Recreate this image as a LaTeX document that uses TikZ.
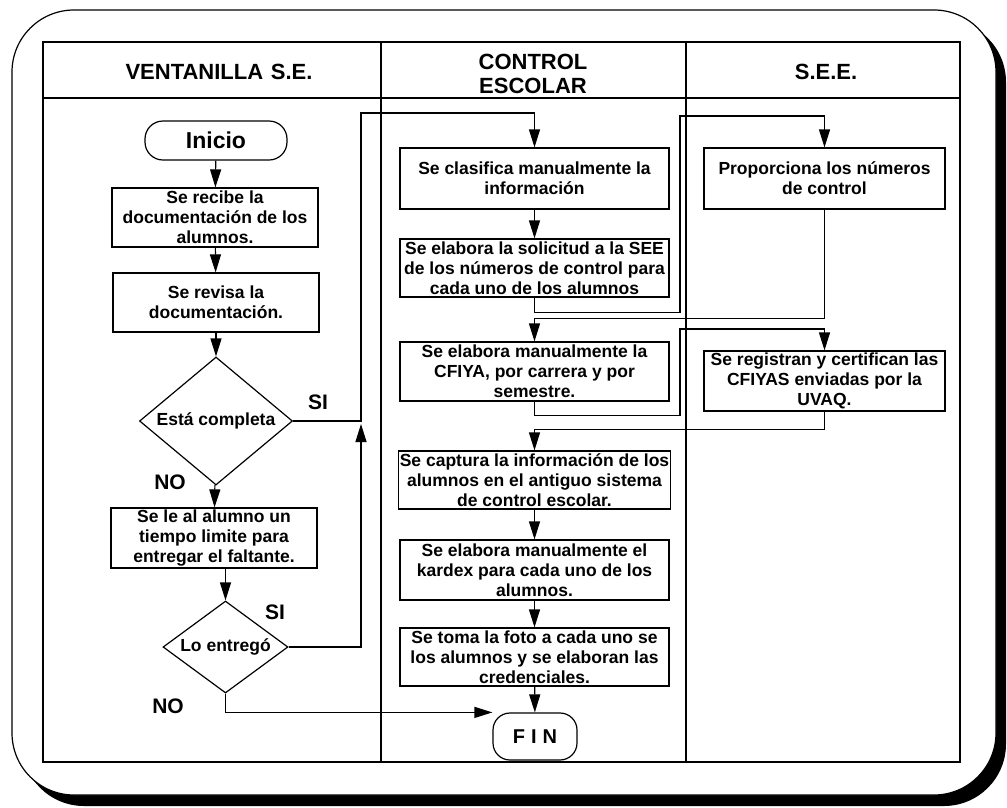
\documentclass[tikz,border=0pt]{standalone}
\usepackage{fontspec}
\setmainfont{Liberation Sans}
\usetikzlibrary{arrows.meta,shapes.geometric}
\begin{document}
\begin{tikzpicture}[x=1pt,y=-1pt,
  line width=1.2pt,
  >={Triangle[length=18pt,width=11pt]},
  box/.style={draw, rectangle, align=center, inner sep=1pt, font=\bfseries\fontsize{17.5}{20}\selectfont},
  lbox/.style={box, minimum width=206, minimum height=59},
  mbox/.style={box, minimum width=269, minimum height=59},
  rbox/.style={box, minimum width=241, minimum height=60},
  term/.style={draw, rectangle, align=center, inner sep=1pt, font=\bfseries\fontsize{23}{26}\selectfont},
  dec/.style={draw, diamond, inner sep=0pt, font=\bfseries\fontsize{17.5}{20}\selectfont},
  hdr/.style={align=center, inner sep=0pt, font=\bfseries\fontsize{22}{24}\selectfont},
  lbl/.style={inner sep=0pt, font=\bfseries\fontsize{21}{24}\selectfont}]
\useasboundingbox (0,0) rectangle (1007,807);
% outer frame with shadow
\fill[black, rounded corners=62pt] (22,20) rectangle (1006,806);
\filldraw[fill=white, draw=black, line width=1.2pt, rounded corners=62pt] (12,10) rectangle (996,795);
% swimlane table
\draw (43,42) rectangle (960,762);
\draw (43,98) -- (960,98);
\draw (381,42) -- (381,762);
\draw (686,42) -- (686,762);
\node[hdr] (h1) at (219,72) {VENTANILLA\hspace{0.35em}S.E.};
\node[hdr] (h2) at (533,74) {CONTROL\\ESCOLAR};
\node[hdr] (h3) at (826,72) {S.E.E.};
% left lane
\node[term, minimum width=142, minimum height=39, rounded corners=18pt] (ini) at (216,140.5) {Inicio};
\node[lbox] (b1) at (215,217.5) {Se recibe la\\documentación de los\\alumnos.};
\node[lbox] (b2) at (216,302.5) {Se revisa la\\documentación.};
\node[dec, minimum width=153, minimum height=128, aspect=1.2] (d1) at (216,421) {Está completa};
\node[lbox, minimum height=60] (b3) at (214,538) {Se le al alumno un\\tiempo limite para\\entregar el faltante.};
\node[dec, minimum width=125, minimum height=92, aspect=1.36] (d2) at (225.5,647) {Lo entregó};
\node[lbl] (si1) at (318,402) {SI};
\node[lbl] (no1) at (170,482) {NO};
\node[lbl] (si2) at (275,612) {SI};
\node[lbl] (no2) at (168,706) {NO};
% middle lane
\node[mbox, minimum height=61] (m1) at (534.5,178.5) {Se clasifica manualmente la\\información};
\node[mbox, minimum height=58] (m2) at (534.5,268) {Se elabora la solicitud a la SEE\\de los números de control para\\cada uno de los alumnos};
\node[mbox] (m3) at (534.5,371.5) {Se elabora manualmente la\\CFIYA, por carrera y por\\semestre.};
\node[mbox, minimum height=58] (m4) at (534.5,480) {Se captura la información de los\\alumnos en el antiguo sistema\\de control escolar.};
\node[mbox, minimum height=60] (m5) at (534.5,570) {Se elabora manualmente el\\kardex para cada uno de los\\alumnos.};
\node[mbox, minimum height=58] (m6) at (534.5,657) {Se toma la foto a cada uno se\\los alumnos y se elaboran las\\credenciales.};
\node[term, minimum width=84, minimum height=47, rounded corners=17pt, font=\bfseries\fontsize{20}{24}\selectfont] (fin) at (535,736.5) {F\hspace{0.3em}I\hspace{0.3em}N};
% right lane
\node[rbox, minimum height=61] (r1) at (824.5,178.5) {Proporciona los números\\de control};
\node[rbox] (r2) at (824.5,381) {Se registran y certifican las\\CFIYAS enviadas por la\\UVAQ.};
% connectors
\draw[->] (ini) -- (b1);
\draw[->] (b1) -- (b2);
\draw[->] (b2) -- (d1);
\draw[->] (d1) -- (b3);
\draw[->] (d1.east) -| (361,113) -| (m1.north);
\draw[->] (d2.north |- b3.south) -- (d2.north);
\draw[->] (d2.east) -- (361,647) -- (361,424);
\draw[->] (d2.south) |- (fin.north west);
\draw[->] (m1) -- (m2);
\draw[->] (m2.south) -- ++(0,15) -| (680,116) -| (r1.north);
\draw[->] (r1.south) -- ++(0,109) -| (m3.north);
\draw[->] (m3.south) -- ++(0,14) -| (680,329) -| (r2.north);
\draw[->] (r2.south) -- ++(0,18) -| (m4.north);
\draw[->] (m4) -- (m5);
\draw[->] (m5) -- (m6);
\draw[->] (m6) -- (fin);
\end{tikzpicture}
\end{document}
